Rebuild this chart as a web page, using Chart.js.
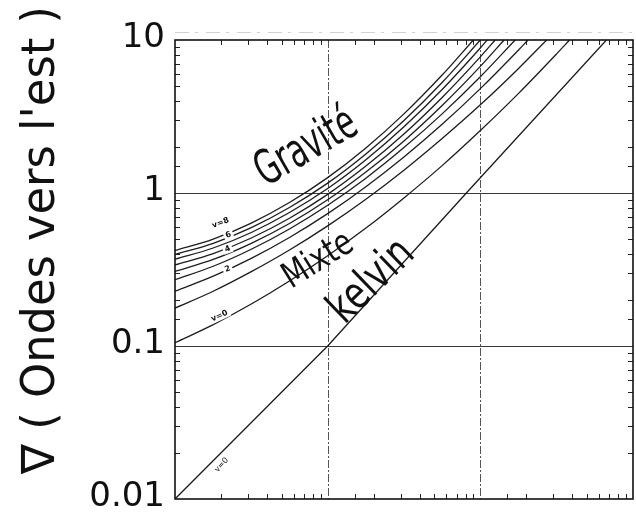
<!DOCTYPE html>
<html><head><meta charset="utf-8">
<script src="https://cdn.jsdelivr.net/npm/chart.js@4.4.0/dist/chart.umd.min.js"></script>
<style>html,body{margin:0;padding:0;background:#fff}canvas{display:block}</style>
</head><body>
<canvas id="c" width="636" height="512"></canvas>
<script>
// ---- data ----
const wavenumber = [0.01, 0.0178, 0.0316, 0.0562, 0.1, 0.178, 0.316, 0.562, 1, 1.78, 3.16];
const yTickValues = [0.01, 0.1, 1, 10];
const yTickLabels = ['0.01', '0.1', '1', '10'];
const gridDecades = [0.1, 1];
const topValue = 10;

const kelvinX = [0.01, 0.1, 0.81, 6.7];
const kelvinY = [0.01, 0.1, 1, 10];

const mixteY = [0.105, 0.138, 0.188, 0.266, 0.389, 0.590, 0.929, 1.51, 2.56, 4.48, 8.12];
const mixteTopX = 3.84;

const gravity1 = [0.177, 0.228, 0.306, 0.424, 0.610, 0.911, 1.41, 2.27, 3.77, 6.52];
const gravity2 = [0.228, 0.286, 0.374, 0.512, 0.733, 1.10, 1.72, 2.81, 4.81, 8.61];
const gravity3 = [0.271, 0.332, 0.429, 0.582, 0.832, 1.25, 1.98, 3.29, 5.75];
const gravity4 = [0.307, 0.368, 0.469, 0.632, 0.903, 1.37, 2.19, 3.73, 6.72];
const gravity5 = [0.339, 0.402, 0.508, 0.684, 0.980, 1.50, 2.43, 4.21, 7.76];
const gravity6 = [0.369, 0.437, 0.552, 0.745, 1.07, 1.65, 2.71, 4.75, 8.87];
const gravity7 = [0.396, 0.469, 0.594, 0.804, 1.16, 1.80, 2.98, 5.28];
const gravity8 = [0.421, 0.500, 0.636, 0.866, 1.26, 1.97, 3.29, 5.90];
const gravityTopX = [2.72, 2.05, 1.69, 1.43, 1.25, 1.11, 1.0, 0.90];

const yTitle = "\u2207 ( Ondes vers l'est )";

// ---- build datasets ----
function curve(ys, topX) {
  const pts = ys.map((y, i) => ({ x: wavenumber[i], y }));
  pts.push({ x: topX, y: topValue });
  return pts;
}
const lineStyle = { showLine: true, pointRadius: 0, borderColor: '#1c1c1c', borderWidth: 1.3,
  cubicInterpolationMode: 'monotone', fill: false };
const gravitySets = [gravity1, gravity2, gravity3, gravity4, gravity5, gravity6, gravity7, gravity8];
const datasets = [
  Object.assign({ label: 'Kelvin', data: kelvinX.map((x, i) => ({ x, y: kelvinY[i] })) }, lineStyle, { tension: 0, cubicInterpolationMode: 'default' }),
  Object.assign({ label: 'Mixte', data: curve(mixteY, mixteTopX) }, lineStyle),
  ...gravitySets.map((g, i) => Object.assign({ label: 'v=' + (i + 1), data: curve(g, gravityTopX[i]) }, lineStyle))
];

const FONT = "'DejaVu Sans', sans-serif";
const isDecade = v => Math.abs(Math.log10(v) - Math.round(Math.log10(v))) < 1e-6;

// annotations (positions in data units)
const notes = [
  { t: 'Gravit\u00e9', x: 0.0731, y: 1.95, a: -30, size: 30, len: 110, sy: 1.6 },
  { t: 'Mixte', x: 0.087, y: 0.36, a: -32, size: 24, len: 76, sy: 1.5 },
  { t: 'kelvin', x: 0.196, y: 0.262, a: -44, size: 30, len: 100, sy: 1.5 },
  { t: 'v=8', x: 0.0199, y: 0.637, a: -20, size: 8, bg: true },
  { t: '6', x: 0.0224, y: 0.531, a: -20, size: 8, bg: true },
  { t: '4', x: 0.0221, y: 0.4305, a: -20, size: 8, bg: true },
  { t: '2', x: 0.0221, y: 0.3187, a: -20, size: 8, bg: true },
  { t: 'v=0', x: 0.0196, y: 0.157, a: -25, size: 8, bg: true },
  { t: 'v=0', x: 0.0202, y: 0.0167, a: -48, size: 8, bg: false }
];

const decor = {
  id: 'decor',
  beforeDatasetsDraw(chart) {
    const { ctx, chartArea: a, scales: { x, y } } = chart;
    ctx.save();
    ctx.strokeStyle = '#3a3a3a'; ctx.lineWidth = 1;
    gridDecades.forEach(v => {
      const py = Math.round(y.getPixelForValue(v)) + 0.5;
      ctx.beginPath(); ctx.moveTo(a.left, py); ctx.lineTo(a.right, py); ctx.stroke();
    });
    ctx.setLineDash([8, 2, 2, 2]);
    ctx.strokeStyle = '#555';
    gridDecades.forEach(v => {
      const px = Math.round(x.getPixelForValue(v)) + 0.5;
      ctx.beginPath(); ctx.moveTo(px, a.top); ctx.lineTo(px, a.bottom); ctx.stroke();
    });
    ctx.setLineDash([]);
    // inward ticks on all four sides
    ctx.strokeStyle = '#222'; ctx.lineWidth = 1;
    x.ticks.forEach(t => {
      if (isDecade(t.value)) return;
      const px = Math.round(x.getPixelForValue(t.value)) + 0.5;
      ctx.beginPath();
      ctx.moveTo(px, a.bottom); ctx.lineTo(px, a.bottom - 5);
      ctx.moveTo(px, a.top); ctx.lineTo(px, a.top + 5);
      ctx.stroke();
    });
    y.ticks.forEach(t => {
      if (isDecade(t.value)) return;
      const py = Math.round(y.getPixelForValue(t.value)) + 0.5;
      ctx.beginPath();
      ctx.moveTo(a.left, py); ctx.lineTo(a.left + 5, py);
      ctx.moveTo(a.right, py); ctx.lineTo(a.right - 5, py);
      ctx.stroke();
    });
    // faint scan dashes above the frame
    ctx.strokeStyle = 'rgba(0,0,0,0.18)'; ctx.setLineDash([14, 6, 3, 8]);
    ctx.beginPath(); ctx.moveTo(a.left, a.top - 7.5); ctx.lineTo(a.right, a.top - 7.5); ctx.stroke();
    ctx.restore();
  },
  afterDatasetsDraw(chart) {
    const { ctx, chartArea: a, scales: { x, y } } = chart;
    ctx.save();
    ctx.strokeStyle = '#111'; ctx.lineWidth = 1.6;
    ctx.strokeRect(a.left, a.top, a.right - a.left, a.bottom - a.top);
    // y tick labels
    ctx.font = '34px ' + FONT; ctx.fillStyle = '#111';
    ctx.textAlign = 'right'; ctx.textBaseline = 'middle';
    yTickValues.forEach((v, i) => {
      ctx.fillText(yTickLabels[i], a.left - 10, y.getPixelForValue(v) - 2);
    });
    // annotations
    notes.forEach(n => {
      const px = x.getPixelForValue(n.x), py = y.getPixelForValue(n.y);
      ctx.save();
      ctx.translate(px, py); ctx.rotate(n.a * Math.PI / 180);
      ctx.font = (n.bg ? 'bold ' : '') + n.size + 'px ' + FONT;
      ctx.textAlign = 'center'; ctx.textBaseline = 'middle';
      const w = ctx.measureText(n.t).width;
      if (n.bg) {
        ctx.fillStyle = '#fff';
        ctx.fillRect(-w / 2 - 2, -n.size * 0.55, w + 4, n.size * 1.1);
      }
      if (n.len) ctx.scale(n.len / w, n.sy || 1);
      ctx.fillStyle = '#111';
      ctx.fillText(n.t, 0, 0);
      ctx.restore();
    });
    // y title
    ctx.save();
    ctx.translate(42, 240); ctx.rotate(-Math.PI / 2);
    ctx.font = '40px ' + FONT;
    const tw = ctx.measureText(yTitle).width;
    ctx.scale(468 / tw, 1.15);
    ctx.textAlign = 'center'; ctx.textBaseline = 'middle';
    ctx.fillStyle = '#111';
    ctx.fillText(yTitle, 0, 0);
    ctx.restore();
    ctx.restore();
  }
};

new Chart(document.getElementById('c'), {
  type: 'scatter',
  data: { datasets },
  options: {
    responsive: false, animation: false,
    layout: { padding: { left: 0, right: 3, top: 40, bottom: 0 } },
    plugins: { legend: { display: false }, tooltip: { enabled: false } },
    scales: {
      x: { type: 'logarithmic', min: 0.01, max: 10,
        ticks: { display: false }, grid: { display: false }, border: { display: false },
        afterFit: s => { s.height = 13; } },
      y: { type: 'logarithmic', min: 0.01, max: 10, position: 'left',
        grid: { display: false, drawTicks: false }, border: { display: false },
        ticks: { display: false },
        afterFit: s => { s.width = 175; } }
    }
  },
  plugins: [decor]
});
</script>
</body></html>
